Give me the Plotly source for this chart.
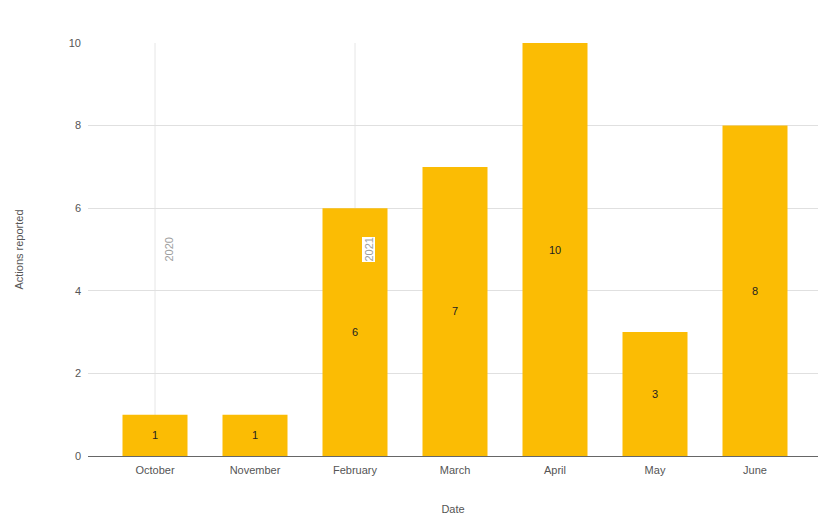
import plotly.graph_objects as go

months = ["October", "November", "February", "March", "April", "May", "June"]
actions = [1, 1, 6, 7, 10, 3, 8]
year_marks = ["2020", "2021"]
year_mark_months = ["October", "February"]
y_ticks = [0, 2, 4, 6, 8, 10]

fig = go.Figure()
fig.add_trace(go.Bar(
    x=list(range(len(months))), y=actions,
    marker=dict(color="#FBBC04", line=dict(width=0)),
    width=0.65,
    text=[str(v) for v in actions], textposition="inside",
    insidetextanchor="middle",
    textfont=dict(color="#222222", size=11, family="Liberation Sans, Arial"),
    cliponaxis=False,
))

shapes = []
annotations = []
for ym, mm in zip(year_marks, year_mark_months):
    xi = months.index(mm)
    shapes.append(dict(type="line", xref="x", yref="paper", x0=xi, x1=xi, y0=0, y1=1,
                       line=dict(color="#e6e6e6", width=1), layer="below"))
    annotations.append(dict(
        x=xi, y=5, xref="x", yref="y", text=ym, showarrow=False, textangle=-90,
        xshift=13, borderpad=0,
        font=dict(color="#9e9e9e", size=11, family="Liberation Sans, Arial"),
        bgcolor="rgba(0,0,0,0)" if ym == "2020" else "#ffffff",
    ))

fig.update_layout(
    width=820, height=517,
    margin=dict(l=88, r=2, t=43, b=61),
    plot_bgcolor="white", paper_bgcolor="white",
    font=dict(family="Liberation Sans, Arial", size=11, color="#555555"),
    showlegend=False,
    shapes=shapes,
    annotations=annotations,
    xaxis=dict(
        tickmode="array", tickvals=list(range(len(months))), ticktext=months,
        range=[-0.67, 6.63], showgrid=False, zeroline=False, showline=False,
        ticks="outside", ticklen=4, tickcolor="rgba(0,0,0,0)",
        tickfont=dict(size=11, color="#555555"),
        title=dict(text="Date", font=dict(size=11, color="#555555"), standoff=30),
    ),
    yaxis=dict(
        range=[0, 10], tickvals=y_ticks, showgrid=True, gridcolor="#e0e0e0",
        zeroline=True, zerolinecolor="#666666", zerolinewidth=1,
        ticks="", tickfont=dict(size=11, color="#555555"), ticklabelstandoff=6,
        title=dict(text="Actions reported", font=dict(size=11, color="#555555"), standoff=42),
    ),
    bargap=0.35,
)

fig.write_html("out.html")
